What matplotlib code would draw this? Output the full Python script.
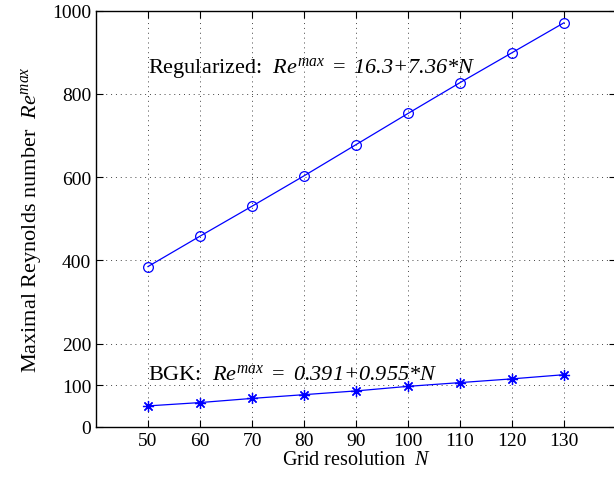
import numpy as np
import matplotlib
matplotlib.use('Agg')
import matplotlib.pyplot as plt

plt.rcParams['font.family'] = 'Liberation Serif'
plt.rcParams['mathtext.fontset'] = 'custom'
plt.rcParams['mathtext.rm'] = 'Liberation Serif'
plt.rcParams['mathtext.it'] = 'Liberation Serif:italic'
# italic digits: mathtext keeps digits upright in 'it', so borrow the sf slot
plt.rcParams['mathtext.sf'] = 'Liberation Serif:italic'

N = [50, 60, 70, 80, 90, 100, 110, 120, 130]
re_regularized = [385, 458, 530, 603, 678, 753, 827, 899, 971]
re_bgk = [50, 58, 68, 77, 86, 97, 106, 115, 125]
yticks = [0, 100, 200, 400, 600, 800, 1000]

fig = plt.figure(figsize=(6.14, 4.81), dpi=100)
ax = fig.add_axes([96 / 614, 53.3 / 481, 520 / 614, 416 / 481])

ax.plot(N, re_regularized, color='#0000ff', lw=0.9, marker='o', ms=7,
        mfc='none', mec='#0000ff', mew=0.9)
ax.plot(N, re_bgk, color='#0000ff', lw=0.9, marker=(8, 2, 0), ms=8,
        mfc='#0000ff', mec='#0000ff', mew=0.9)

ax.set_xlim(40, 140)
ax.set_ylim(0, 1000)
ax.set_xticks(N)
ax.set_yticks(yticks)
ax.grid(True, linestyle=(0, (1, 4)), color='#444444', lw=0.7)
ax.tick_params(direction='in', top=True, right=True, labelsize=14, length=5)
for s in ax.spines.values():
    s.set_linewidth(1.0)

ax.text(50, 853, r'Regularized:  $Re^{max}$ $=$ $\mathsf{16.3{+}7.36{*}N}$',
        fontsize=16, va='baseline')
ax.text(50, 114, r'BGK:  $Re^{max}$ $=$ $\mathsf{0.391{+}0.955{*}N}$',
        fontsize=16, va='baseline')

ax.set_xlabel(r'Grid resolution  $N$', fontsize=14.5, labelpad=1)
ax.set_ylabel(r'Maximal Reynolds number  $Re^{max}$', fontsize=16, labelpad=6)

fig.savefig('out.png', dpi=100)
